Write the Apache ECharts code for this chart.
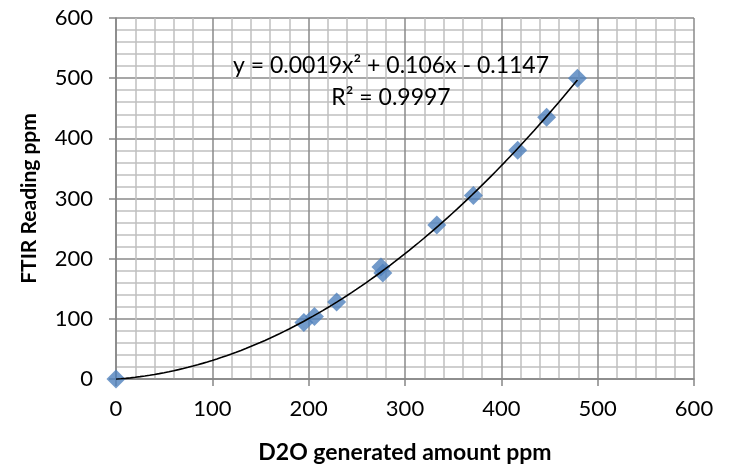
<!DOCTYPE html>
<html>
<head>
<meta charset="utf-8">
<script src="https://cdn.jsdelivr.net/npm/echarts@6/dist/echarts.min.js"></script>
<style>
  html, body { margin: 0; padding: 0; background: #fff; }
  #chart { width: 730px; height: 467px; }
</style>
</head>
<body>
<div id="chart"></div>
<script>
// D2O generated amount (ppm) vs FTIR reading (ppm)
var d2oAmount = [0, 195, 206, 229, 275, 277, 333, 371, 417, 447, 479];
var ftirReading = [0, 94, 104, 128, 186, 176, 256, 305, 380, 435, 500];
var equationText = 'y = 0.0019x\u00b2 + 0.106x - 0.1147';
var r2Text = 'R\u00b2 = 0.9997';

var FONT = 'Lato, sans-serif';

// quadratic least-squares trendline through the measured points (as the spreadsheet does)
function quadFit(xs, ys) {
  var n = xs.length, s = [0, 0, 0, 0, 0], t = [0, 0, 0];
  for (var i = 0; i < n; i++) {
    var x = xs[i], y = ys[i];
    for (var k = 0; k < 5; k++) s[k] += Math.pow(x, k);
    for (var k2 = 0; k2 < 3; k2++) t[k2] += y * Math.pow(x, k2);
  }
  var m = [[s[0], s[1], s[2], t[0]], [s[1], s[2], s[3], t[1]], [s[2], s[3], s[4], t[2]]];
  for (var c = 0; c < 3; c++) {
    for (var r = c + 1; r < 3; r++) {
      var f = m[r][c] / m[c][c];
      for (var j = c; j < 4; j++) m[r][j] -= f * m[c][j];
    }
  }
  var b = [0, 0, 0];
  for (var r2 = 2; r2 >= 0; r2--) {
    var v = m[r2][3];
    for (var j2 = r2 + 1; j2 < 3; j2++) v -= m[r2][j2] * b[j2];
    b[r2] = v / m[r2][r2];
  }
  return b; // c0, c1, c2
}

var coef = quadFit(d2oAmount, ftirReading);
var xMax = Math.max.apply(null, d2oAmount);
var trend = [];
for (var i = 0; i <= 96; i++) {
  var x = xMax * i / 96;
  trend.push([x, coef[0] + coef[1] * x + coef[2] * x * x]);
}

var points = d2oAmount.map(function (x, i) { return [x, ftirReading[i]]; });

var chart = echarts.init(document.getElementById('chart'));
var option = {
  animation: false,
  grid: { left: 116, right: 36, top: 18, bottom: 88, outerBoundsMode: 'none', containLabel: false },
  xAxis: {
    type: 'value',
    min: 0, max: 600, interval: 100,
    name: 'D2O generated amount ppm',
    nameLocation: 'middle',
    nameGap: 62,
    nameTextStyle: { fontFamily: FONT, fontSize: 23, fontWeight: 'bold', color: '#000' },
    axisLine: { show: true, lineStyle: { color: '#868686', width: 1.5 } },
    axisTick: { show: true, length: 7, lineStyle: { color: '#868686', width: 1.5 } },
    axisLabel: { fontFamily: FONT, fontSize: 22, color: '#000', margin: 19 },
    splitLine: { show: true, lineStyle: { color: '#8a8a8a', width: 1.5 } },
    minorTick: { show: false, splitNumber: 5 },
    minorSplitLine: { show: true, lineStyle: { color: '#c0c0c0', width: 1.5 } }
  },
  yAxis: {
    type: 'value',
    min: 0, max: 600, interval: 100,
    name: 'FTIR Reading ppm',
    nameLocation: 'middle',
    nameGap: 76,
    nameTextStyle: { fontFamily: FONT, fontSize: 21, fontWeight: 'bold', color: '#000' },
    axisLine: { show: true, lineStyle: { color: '#868686', width: 1.5 } },
    axisTick: { show: true, length: 7, lineStyle: { color: '#868686', width: 1.5 } },
    axisLabel: { fontFamily: FONT, fontSize: 22, color: '#000', margin: 23 },
    splitLine: { show: true, lineStyle: { color: '#8a8a8a', width: 1.5 } },
    minorTick: { show: false, splitNumber: 5 },
    minorSplitLine: { show: true, lineStyle: { color: '#c0c0c0', width: 1.5 } }
  },
  // the two trendline labels, centred on one column
  graphic: [
    {
      type: 'text', z: 100,
      style: { text: equationText, x: 391, y: 54, align: 'center', fontFamily: FONT, fontSize: 23, fill: '#000' }
    },
    {
      type: 'text', z: 100,
      style: { text: r2Text, x: 391, y: 86, align: 'center', fontFamily: FONT, fontSize: 23, fill: '#000' }
    }
  ],
  series: [
    {
      type: 'line',
      data: trend,
      showSymbol: false,
      lineStyle: { color: '#000', width: 1.6 },
      z: 3,
      silent: true
    },
    {
      type: 'scatter',
      data: points,
      symbol: 'diamond',
      symbolSize: [19, 19],
      itemStyle: { color: '#4f81bd' },
      z: 2
    }
  ]
};
chart.setOption(option);
window.addEventListener('resize', function () { chart.resize(); });
</script>
</body>
</html>
